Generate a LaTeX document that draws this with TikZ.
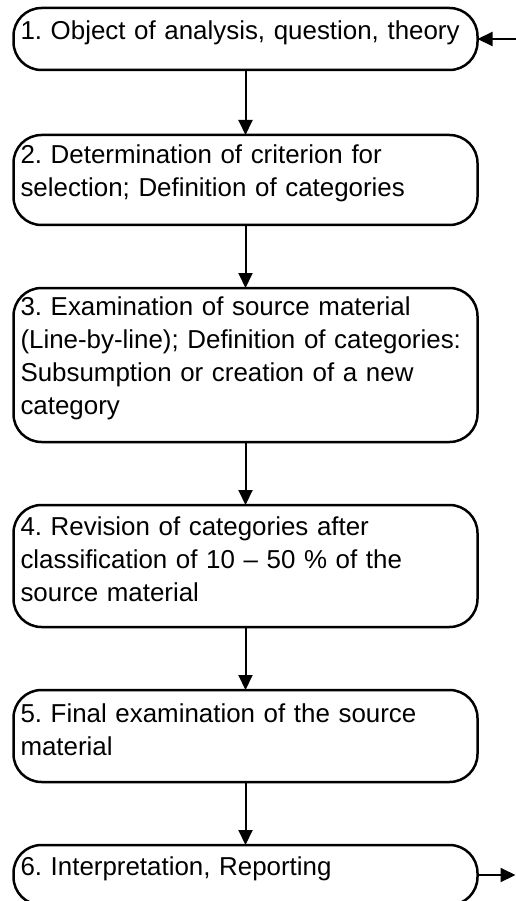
\documentclass[tikz,border=0pt]{standalone}
\usepackage{fontspec}
\setmainfont{Liberation Sans}
\usetikzlibrary{arrows.meta, positioning}

\begin{document}
\frenchspacing
\begin{tikzpicture}[
  x=1pt, y=1pt,
  font=\fontsize{25.9pt}{33pt}\selectfont,
  node distance=63pt,
  stage/.style={draw, line width=2.5pt, rounded corners=28pt, align=left,
                text width=450pt, inner xsep=7pt, inner ysep=3pt,
                outer sep=0pt, text height=6pt},
  arr/.style={-{Triangle[length=15pt, width=14pt]}, line width=2pt}
]
\useasboundingbox (0,0) rectangle (515,-901);

\node[stage, minimum height=62pt] (obj) at (245.5,-39)
  {1. Object of analysis, question, theory};
\node[stage, minimum height=90pt, below=65pt of obj] (crit)
  {2. Determination of criterion for\\ selection; Definition of categories};
\node[stage, minimum height=154pt, below=of crit] (exam)
  {3. Examination of source material\\ (Line-by-line); Definition of categories:\\
   Subsumption or creation of a new\\ category};
\node[stage, minimum height=122pt, below=of exam] (rev)
  {4. Revision of categories after\\ classification of 10 -- 50 \% of the\\
   source material};
\node[stage, minimum height=92pt, below=of rev] (fin)
  {5. Final examination of the source\\ material};
\node[stage, minimum height=60pt, below=of fin] (rep)
  {6. Interpretation, Reporting};

\coordinate[right=38pt of obj.east] (back);
\coordinate[right=38pt of rep.east] (out);

\draw[arr] (back) -- (obj.east);
\draw[arr] (obj) -- (crit);
\draw[arr] (crit) -- (exam);
\draw[arr] (exam) -- (rev);
\draw[arr] (rev) -- (fin);
\draw[arr] (fin) -- (rep);
\draw[arr] (rep.east) -- (out);
\end{tikzpicture}
\end{document}
